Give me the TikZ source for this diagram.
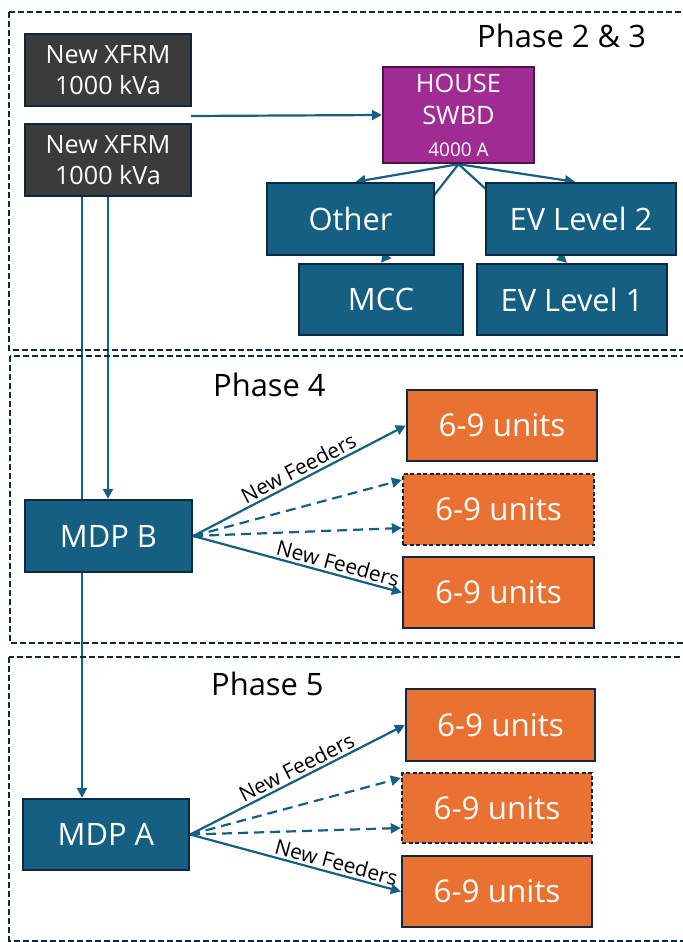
\documentclass[tikz,border=0pt]{standalone}
\usepackage{fontspec}
\setmainfont{Open Sans}
\usetikzlibrary{arrows.meta,backgrounds,calc}
\definecolor{cTeal}{HTML}{156082}
\definecolor{cNavy}{HTML}{0E2841}
\definecolor{cOrange}{HTML}{E97132}
\definecolor{cPurple}{HTML}{A02B93}
\definecolor{cPlum}{HTML}{4C1546}
\definecolor{cGrey}{HTML}{3B3B3B}
\newcommand\fsz[2]{\fontsize{#1}{#2}\selectfont}
\begin{document}
\begin{tikzpicture}[x=1bp,y=-1bp,
  box/.style={draw=cNavy, line width=2.3bp, inner sep=0pt, text=white, align=center},
  xfrm/.style={box, fill=cGrey, minimum width=166bp, minimum height=72bp, font=\fsz{25.3}{31}},
  house/.style={box, draw=cPlum, fill=cPurple, minimum width=151bp, minimum height=96bp, font=\fsz{25.5}{32}},
  tealbox/.style={box, fill=cTeal, font=\fsz{31}{36}},
  unitbox/.style={box, fill=cOrange, minimum width=190bp, minimum height=71bp, font=\fsz{31.5}{36}},
  dashedunit/.style={unitbox, dash pattern=on 4bp off 2.5bp},
  frame/.style={draw=cNavy, line width=2bp, dash pattern=on 6bp off 3bp},
  phase/.style={anchor=base west, inner sep=0pt, font=\fsz{31}{36}},
  arr/.style={draw=cTeal, line width=2.2bp, -{Triangle[length=10bp,width=10bp]}},
  dasharr/.style={arr, dash pattern=on 10bp off 6bp},
  feeder/.style={font=\fsz{21}{24}, inner sep=2.5bp, sloped, above}
]
\clip (0,0) rectangle (683,942);

% frames
\draw[frame] (9,12) rectangle (700,350);
\draw[frame] (10,356) rectangle (700,643);
\draw[frame] (9,657) rectangle (700,940.5);

% phase labels
\node[phase] (p23) at (477,47) {Phase 2 \& 3};
\node[phase] (p4) at (213,396) {Phase 4};
\node[phase] (p5) at (211,695) {Phase 5};

% phase 2 & 3 boxes
\node[xfrm] (x1) at (108,70) {New XFRM\\1000 kVa};
\node[xfrm] (x2) at (108,160) {New XFRM\\1000 kVa};
\node[house] (house) at (458.5,115) {HOUSE\\SWBD\\{\fsz{19}{26}\selectfont 4000 A}};
\node[tealbox, minimum width=167bp, minimum height=72bp] (other) at (350.5,219) {Other};
\node[tealbox, minimum width=190bp, minimum height=72bp] (ev2) at (581,219) {EV Level 2};
\node[tealbox, minimum width=164bp, minimum height=71bp] (mcc) at (381,299.5) {MCC};
\node[tealbox, minimum width=190bp, minimum height=71bp] (ev1) at (572,299.5) {EV Level 1};

% phase 4
\node[tealbox, minimum width=167bp, minimum height=72bp] (mdpb) at (108.5,536) {MDP B};
\node[unitbox] (u1) at (502,425.5) {6-9 units};
\node[dashedunit, minimum width=191bp] (u2) at (498.5,509.5) {6-9 units};
\node[unitbox, minimum width=191bp] (u3) at (498.5,592.5) {6-9 units};

% phase 5
\node[tealbox, minimum width=166bp, minimum height=71bp] (mdpa) at (106,834.5) {MDP A};
\node[unitbox, minimum width=189bp, minimum height=72bp] (u4) at (500.5,725) {6-9 units};
\node[dashedunit, minimum height=70bp] (u5) at (497,808) {6-9 units};
\node[unitbox] (u6) at (497,891.5) {6-9 units};

\coordinate (xo) at (191,116);
\coordinate (ta) at (82,196);

\begin{pgfonlayer}{background}
  \draw[arr] (xo) -- (house.west);
  \draw[arr] (ta) -- (ta |- mdpa.north);
  \draw[arr] (x2.south) -- (x2.south |- mdpb.north);
  \draw[arr] (house.south) -- ([xshift=5bp]other.north);
  \draw[arr] (house.south) -- (mcc.north);
  \draw[arr] (house.south) -- ([xshift=-5bp]ev1.north);
  \draw[arr] (house.south) -- ([xshift=-6bp]ev2.north);
  % phase 4 fan
  \draw[arr] (mdpb.east) -- node[feeder, pos=0.52] {New Feeders} (u1.west);
  \draw[dasharr] (mdpb.east) -- ([yshift=29.5bp]u2.west);
  \draw[dasharr] (mdpb.east) -- ([yshift=-18.5bp]u2.west);
  \draw[arr] (mdpb.east) -- node[feeder, pos=0.68] {New Feeders} (u3.west);
  % phase 5 fan
  \draw[arr] (mdpa.east) -- node[feeder, pos=0.52] {New Feeders} (u4.west);
  \draw[dasharr] (mdpa.east) -- ([yshift=30bp]u5.west);
  \draw[dasharr] (mdpa.east) -- ([yshift=-20bp]u5.west);
  \draw[arr] (mdpa.east) -- node[feeder, pos=0.68] {New Feeders} (u6.west);
\end{pgfonlayer}
\end{tikzpicture}
\end{document}
